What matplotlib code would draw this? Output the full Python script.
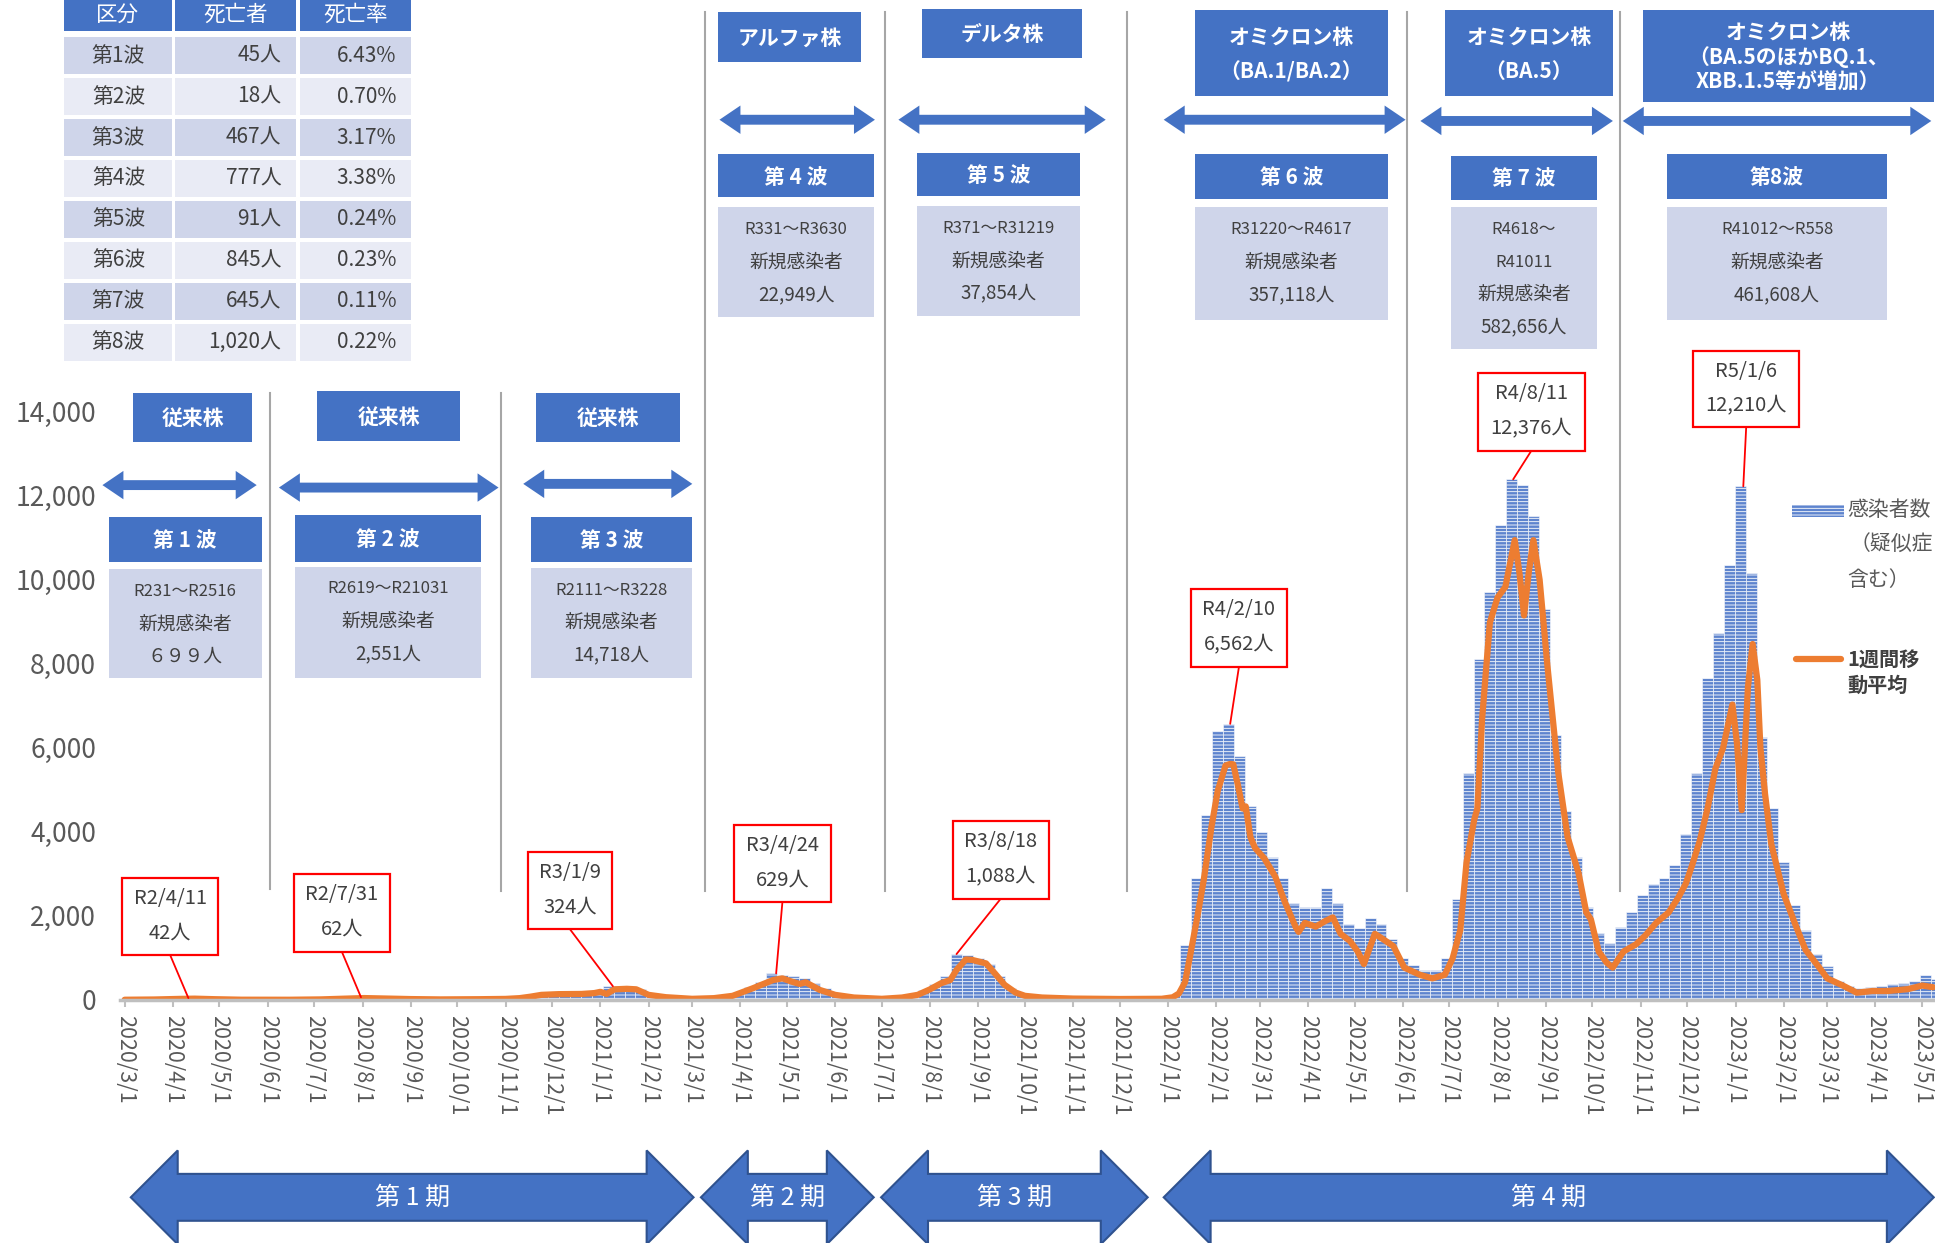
import matplotlib
matplotlib.use('Agg')
import matplotlib.pyplot as plt
import matplotlib.dates as mdates
from matplotlib.patches import Rectangle, Polygon, ConnectionPatch
import pandas as pd

plt.rcParams['font.family'] = ['Noto Sans CJK JP', 'DejaVu Sans']
plt.rcParams['hatch.linewidth'] = 0.6

BLUE = '#4472C4'
BAR_BLUE = '#5E84CE'
LIGHT = '#CFD5EA'
LIGHTER = '#E9EBF5'
GRAY = '#404040'
ORANGE = '#ED7D31'

# ---------------- data ----------------
# daily new cases, tallest day of each week (weeks start 2020-03-01)
bar_start = '2020-03-01'
bar_vals = [
    5, 6, 10, 18, 30, 42, 38, 30, 20, 12, 6, 3, 1, 0, 1, 3, 5, 9, 16, 28,
    45, 62, 58, 50, 42, 35, 28, 22, 18, 16, 18, 20, 22, 26, 30, 40, 65, 100, 170, 190,
    200, 195, 210, 240, 324, 320, 315, 260, 170, 110, 70, 50, 38, 45, 60, 100, 170, 300, 430, 629,
    600, 560, 520, 400, 270, 170, 100, 70, 50, 38, 45, 75, 130, 240, 380, 560, 1088, 1060, 1000, 850,
    560, 280, 150, 95, 70, 50, 40, 32, 26, 22, 18, 18, 15, 15, 18, 30, 120, 1300, 2900, 4400,
    6400, 6562, 5800, 4600, 4000, 3400, 2900, 2300, 2200, 2200, 2650, 2300, 1800, 1700, 1950, 1800, 1450, 1000, 820, 720,
    700, 1000, 2400, 5400, 8100, 9700, 11300, 12376, 12250, 11500, 9300, 6300, 4500, 3400, 2200, 1600, 1350, 1740, 2080, 2500,
    2760, 2900, 3200, 3950, 5400, 7650, 8720, 10330, 12210, 10160, 6250, 4550, 3270, 2250, 1660, 1100, 810, 450, 330, 280,
    300, 330, 380, 400, 450, 595, 500,
]

# 1-week moving average
ma_dates = [
    '2020-03-01', '2020-03-20', '2020-04-05', '2020-04-15', '2020-04-28', '2020-05-15', '2020-06-15',
    '2020-07-05', '2020-07-20', '2020-08-02', '2020-08-15', '2020-09-01', '2020-09-20', '2020-10-15',
    '2020-11-01', '2020-11-10', '2020-11-17', '2020-11-24', '2020-12-05', '2020-12-20', '2020-12-28',
    '2021-01-01', '2021-01-05', '2021-01-10', '2021-01-18', '2021-01-24', '2021-02-01', '2021-02-12',
    '2021-03-01', '2021-03-15', '2021-03-27', '2021-04-09', '2021-04-22', '2021-04-28', '2021-05-04',
    '2021-05-09', '2021-05-13', '2021-05-22', '2021-06-01', '2021-06-13', '2021-07-01', '2021-07-14',
    '2021-07-24', '2021-08-01', '2021-08-08', '2021-08-14', '2021-08-18', '2021-08-24', '2021-08-28',
    '2021-09-06', '2021-09-12', '2021-09-18', '2021-09-25', '2021-10-01', '2021-10-12', '2021-11-01',
    '2021-12-01', '2021-12-28', '2022-01-04', '2022-01-08', '2022-01-12', '2022-01-16', '2022-01-20',
    '2022-01-24', '2022-01-29', '2022-02-02', '2022-02-07', '2022-02-10', '2022-02-12', '2022-02-15',
    '2022-02-18', '2022-02-20', '2022-02-23', '2022-02-26', '2022-03-04', '2022-03-11', '2022-03-17',
    '2022-03-24', '2022-03-26', '2022-03-30', '2022-04-06', '2022-04-12', '2022-04-17', '2022-04-22',
    '2022-04-28', '2022-05-03', '2022-05-07', '2022-05-14', '2022-05-19', '2022-05-26', '2022-06-02',
    '2022-06-12', '2022-06-20', '2022-06-28', '2022-07-03', '2022-07-08', '2022-07-12', '2022-07-17',
    '2022-07-19', '2022-07-22', '2022-07-27', '2022-08-01', '2022-08-06', '2022-08-12', '2022-08-15',
    '2022-08-18', '2022-08-21', '2022-08-24', '2022-08-28', '2022-09-02', '2022-09-09', '2022-09-15',
    '2022-09-22', '2022-09-27', '2022-09-30', '2022-10-05', '2022-10-10', '2022-10-14', '2022-10-21',
    '2022-10-29', '2022-11-04', '2022-11-11', '2022-11-19', '2022-11-25', '2022-11-30', '2022-12-04',
    '2022-12-09', '2022-12-14', '2022-12-19', '2022-12-24', '2022-12-30', '2023-01-02', '2023-01-05',
    '2023-01-09', '2023-01-12', '2023-01-15', '2023-01-17', '2023-01-20', '2023-01-24', '2023-02-01',
    '2023-02-09', '2023-02-15', '2023-02-23', '2023-03-01', '2023-03-11', '2023-03-20', '2023-03-30',
    '2023-04-09', '2023-04-22', '2023-05-01', '2023-05-08',
]
ma_vals = [
    2, 8, 22, 28, 15, 3, 2,
    10, 28, 42, 32, 18, 10, 15,
    22, 40, 75, 118, 135, 140, 160,
    190, 140, 250, 262, 250, 118, 63,
    24, 40, 95, 275, 470, 510, 433,
    378, 417, 236, 118, 55, 24, 55,
    118, 250, 393, 472, 710, 960, 950,
    866, 614, 354, 173, 95, 55, 30,
    20, 25, 60, 150, 420, 1200, 2000,
    2850, 4120, 4970, 5570, 5610, 5600, 5100,
    4550, 4600, 3870, 3610, 3360, 2930, 2340,
    1740, 1615, 1830, 1740, 1870, 1960, 1570,
    1400, 1150, 850, 1570, 1450, 1275, 765,
    595, 510, 595, 980, 1660, 3270, 4290,
    4550, 6670, 8970, 9570, 9820, 10930, 10160,
    9140, 10160, 10930, 9990, 7950, 5400, 3870,
    3020, 2080, 1910, 1150, 890, 765, 1150,
    1320, 1530, 1830, 2080, 2420, 2760, 3190,
    3780, 4550, 5490, 5990, 7020, 6080, 4510,
    7440, 8460, 7610, 5990, 4890, 3700, 2510,
    1740, 1190, 810, 510, 340, 170, 210,
    210, 255, 340, 300,
]

# peak-day callouts
peak_dates = ['2020-04-11', '2020-07-31', '2021-01-09', '2021-04-24',
              '2021-08-18', '2022-02-10', '2022-08-11', '2023-01-06']
peak_labels = ['R2/4/11', 'R2/7/31', 'R3/1/9', 'R3/4/24',
               'R3/8/18', 'R4/2/10', 'R4/8/11', 'R5/1/6']
peak_vals = [42, 62, 324, 629, 1088, 6562, 12376, 12210]

# deaths table
tbl_header = ['区分', '死亡者', '死亡率']
tbl_waves = ['第1波', '第2波', '第3波', '第4波', '第5波', '第6波', '第7波', '第8波']
tbl_deaths = ['45人', '18人', '467人', '777人', '91人', '845人', '645人', '1,020人']
tbl_rates = ['6.43%', '0.70%', '3.17%', '3.38%', '0.24%', '0.23%', '0.11%', '0.22%']

strains = ['従来株', '従来株', '従来株', 'アルファ株', 'デルタ株',
           'オミクロン株\n（BA.1/BA.2）', 'オミクロン株\n（BA.5）',
           'オミクロン株\n（BA.5のほかBQ.1、\nXBB.1.5等が増加）']
wave_names = ['第 1 波', '第 2 波', '第 3 波', '第 4 波', '第 5 波', '第 6 波', '第 7 波', '第8波']
wave_info = [
    ['R231～R2516', '新規感染者', '６９９人'],
    ['R2619～R21031', '新規感染者', '2,551人'],
    ['R2111～R3228', '新規感染者', '14,718人'],
    ['R331～R3630', '新規感染者', '22,949人'],
    ['R371～R31219', '新規感染者', '37,854人'],
    ['R31220～R4617', '新規感染者', '357,118人'],
    ['R4618～', 'R41011', '新規感染者', '582,656人'],
    ['R41012～R558', '新規感染者', '461,608人'],
]
periods = ['第 1 期', '第 2 期', '第 3 期', '第 4 期']

# ---------------- figure ----------------
W, H = 1568, 1007   # layout units (reference at reduced size)
fig = plt.figure(figsize=(19.35, 12.43), dpi=100)

d0 = pd.Timestamp('2020-03-01')
x_left = 97          # layout x of axis start
px_day = 1.26
y0_px, y14_px = 810, 333
ax = fig.add_axes([x_left / W, (H - y0_px) / H, (W - x_left) / W, (y0_px - y14_px) / H])
t0 = mdates.date2num(d0)
ax.set_xlim(t0 - (101 - x_left) / px_day, t0 + (W - 101) / px_day)
ax.set_ylim(0, 14000)

bar_x = mdates.date2num(pd.date_range(bar_start, periods=len(bar_vals), freq='7D') + pd.Timedelta(days=3))
ax.bar(bar_x, bar_vals, width=7, color=BAR_BLUE, edgecolor='white', linewidth=0.4, hatch='-----', zorder=2)
ax.plot(mdates.date2num(pd.to_datetime(ma_dates)), ma_vals, color=ORANGE, lw=4.5,
        solid_joinstyle='round', solid_capstyle='round', zorder=3)

for s in ['left', 'top', 'right']:
    ax.spines[s].set_visible(False)
ax.spines['bottom'].set_color('#BFBFBF')
ax.spines['bottom'].set_linewidth(2.5)
ax.spines['bottom'].set_zorder(4)
ax.set_yticks(range(0, 14001, 2000))
ax.set_yticklabels([f'{v:,}' for v in range(0, 14001, 2000)])
ax.tick_params(axis='y', length=0, labelsize=19, labelcolor='#595959', pad=17)
months = pd.date_range('2020-03-01', '2023-05-01', freq='MS')
ax.set_xticks(mdates.date2num(months))
ax.set_xticklabels([f'{m.year}/{m.month}/1' for m in months], rotation=270, va='top', ha='center')
ax.tick_params(axis='x', length=5, width=1.5, color='#BFBFBF', labelsize=15.5, labelcolor='#595959', pad=6)
ax.patch.set_visible(False)

# overlay in layout units
ov = fig.add_axes([0, 0, 1, 1])
ov.set_xlim(0, W)
ov.set_ylim(H, 0)
ov.axis('off')


def box(x0, y0, x1, y1, fc, ec='none', lw=0):
    ov.add_patch(Rectangle((x0, y0), x1 - x0, y1 - y0, facecolor=fc, edgecolor=ec, linewidth=lw))


def dbl_arrow(x0, x1, yc, shaft, head_h, head_l, **kw):
    pts = [(x0, yc), (x0 + head_l, yc - head_h / 2), (x0 + head_l, yc - shaft / 2),
           (x1 - head_l, yc - shaft / 2), (x1 - head_l, yc - head_h / 2), (x1, yc),
           (x1 - head_l, yc + head_h / 2), (x1 - head_l, yc + shaft / 2),
           (x0 + head_l, yc + shaft / 2), (x0 + head_l, yc + head_h / 2)]
    ov.add_patch(Polygon(pts, closed=True, **kw))


# deaths table
col_x = [(52, 139), (142, 240), (243, 333)]
for (a, b), t in zip(col_x, tbl_header):
    box(a, 0, b, 25, BLUE)
    ov.text((a + b) / 2, 12, t, color='white', fontsize=15.5, ha='center', va='center')
for i in range(len(tbl_waves)):
    top = 30 + 33.2 * i
    fc = LIGHT if i % 2 == 0 else LIGHTER
    for a, b in col_x:
        box(a, top, b, top + 30, fc)
    yc = top + 15
    ov.text(96, yc, tbl_waves[i], color=GRAY, fontsize=15, ha='center', va='center')
    ov.text(228, yc, tbl_deaths[i], color=GRAY, fontsize=15, ha='right', va='center')
    ov.text(321, yc, tbl_rates[i], color=GRAY, fontsize=15, ha='right', va='center')

# separators between waves
for x, ya, yb in [(219, 318, 720), (406, 318, 722), (571, 10, 722), (717, 10, 722),
                  (913, 10, 722), (1140, 10, 722), (1313, 10, 722)]:
    ov.plot([x, x], [ya, yb], color='#A6A6A6', lw=1.5)

# strain boxes
strain_pos = [(108, 318, 204, 358), (257, 317, 373, 357), (434, 318, 551, 358), (582, 10, 698, 50),
              (747, 7, 877, 47), (968, 8, 1125, 78), (1171, 8, 1307, 78), (1331, 8, 1567, 83)]
for (x0, y0, x1, y1), t in zip(strain_pos, strains):
    box(x0, y0, x1, y1, BLUE)
    ls = 1.2 if t.count('\n') > 1 else 1.75
    ov.text((x0 + x1) / 2, (y0 + y1) / 2 + 1, t, color='white', fontsize=15, fontweight='bold',
            ha='center', va='center', linespacing=ls)

# wave arrows
for x0, x1, yc in [(83, 208, 393), (226, 404, 395), (424, 561, 392), (583, 709, 97),
                   (728, 896, 97), (943, 1139, 97), (1151, 1307, 98), (1315, 1565, 98)]:
    dbl_arrow(x0, x1, yc, 8, 23, 17, facecolor=BLUE, edgecolor='none')

# wave name boxes and info boxes
name_pos = [(88, 419, 212, 455), (239, 417, 390, 455), (430, 419, 561, 455), (582, 125, 708, 160),
            (743, 124, 875, 159), (968, 125, 1125, 161), (1176, 126, 1294, 162), (1351, 125, 1529, 161)]
info_pos = [(88, 461, 212, 549), (239, 459, 390, 549), (430, 460, 561, 549), (582, 168, 708, 257),
            (743, 167, 875, 256), (968, 168, 1125, 259), (1176, 168, 1294, 283), (1351, 168, 1529, 259)]
for (x0, y0, x1, y1), t in zip(name_pos, wave_names):
    box(x0, y0, x1, y1, BLUE)
    ov.text((x0 + x1) / 2, (y0 + y1) / 2 + 1, t, color='white', fontsize=15, fontweight='bold',
            ha='center', va='center')
for (x0, y0, x1, y1), lines in zip(info_pos, wave_info):
    box(x0, y0, x1, y1, LIGHT)
    for j, t in enumerate(lines):
        fs = 12 if t.startswith('R') else 13.5
        ov.text((x0 + x1) / 2, y0 + 18 + 26.3 * j, t, color=GRAY, fontsize=fs, ha='center', va='center')

# peak callouts
callout_pos = [(99, 711, 177, 774), (238, 708, 316, 771), (428, 690, 496, 753), (595, 668, 673, 731),
               (772, 665, 850, 728), (965, 477, 1043, 540), (1198, 302, 1284, 365), (1372, 284, 1458, 346)]
for (x0, y0, x1, y1), d, lab, v in zip(callout_pos, peak_dates, peak_labels, peak_vals):
    xc = (x0 + x1) / 2
    con = ConnectionPatch(xyA=(xc, y1), coordsA=ov.transData,
                          xyB=(mdates.date2num(pd.Timestamp(d)), v), coordsB=ax.transData,
                          color='#FF0000', lw=1.3)
    ov.add_artist(con)
    box(x0, y0, x1, y1, 'white', ec='#FF0000', lw=1.6)
    ov.text(xc, y0 + 17, lab, color=GRAY, fontsize=14.5, ha='center', va='center')
    ov.text(xc, y0 + 45, f'{v:,}人', color=GRAY, fontsize=14.5, ha='center', va='center')

# legend
ov.add_patch(Rectangle((1452, 409), 42, 10, facecolor=BAR_BLUE, edgecolor='white', linewidth=0, hatch='-----'))
ov.text(1497, 413, '感染者数', color='#595959', fontsize=15, ha='left', va='center')
ov.text(1499, 441, '（疑似症', color='#595959', fontsize=15, ha='left', va='center')
ov.text(1497, 470, '含む）', color='#595959', fontsize=15, ha='left', va='center')
ov.plot([1455, 1492], [534, 534], color=ORANGE, lw=4.5, solid_capstyle='round')
ov.text(1497, 534, '1週間移', color=GRAY, fontsize=14.5, fontweight='bold', ha='left', va='center')
ov.text(1497, 555, '動平均', color=GRAY, fontsize=14.5, fontweight='bold', ha='left', va='center')

# period arrows
for (x0, x1), t in zip([(106, 562), (568, 708), (714, 930), (943, 1567)], periods):
    dbl_arrow(x0, x1, 970, 38, 76, 38, facecolor=BLUE, edgecolor='#2F528F', linewidth=1.5)
    ov.text((x0 + x1) / 2, 970, t, color='white', fontsize=18, ha='center', va='center')

fig.savefig('out.png', dpi=100)
